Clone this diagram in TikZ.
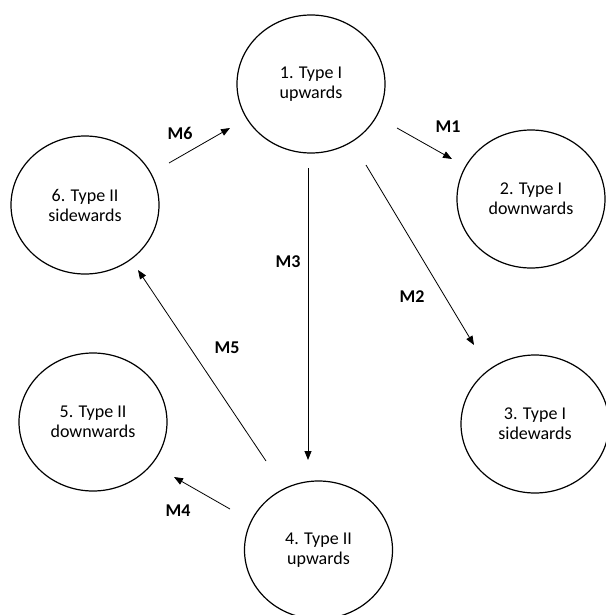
\documentclass[tikz,border=0pt]{standalone}
\usepackage{fontspec}
\setmainfont{Carlito}
\usetikzlibrary{shapes.geometric,arrows.meta,calc}
\begin{document}
\begin{tikzpicture}[x=1pt,y=-1pt,
  state/.style={draw,line width=1.2pt,ellipse,minimum width=148pt,minimum height=138pt,inner sep=0pt,align=center,font=\fontsize{18}{20}\selectfont},
  conn/.style={line width=0.8pt,-{Triangle[length=9pt,width=7pt]}},
  lab/.style={font=\fontsize{18}{20}\selectfont\bfseries}]
\useasboundingbox (0,0) rectangle (605,615);
\node[state] (n1) at (311,84) {1. Type I\\upwards};
\node[state] (n2) at (531,199) {2. Type I\\downwards};
\node[state] (n3) at (535,424) {3. Type I\\sidewards};
\node[state] (n4) at (318.5,550) {4. Type II\\upwards};
\node[state] (n5) at (93,422) {5. Type II\\downwards};
\node[state] (n6) at (85,205) {6. Type II\\sidewards};
\draw[conn] ($(n1)+(86,44)$) -- ($(n2)+(-79,-40)$);
\draw[conn] ($(n1)+(55,81)$) -- ($(n3)+(-61,-79)$);
\draw[conn] ($(n1)+(-3,84)$) -- ($(n4)+(-10.5,-90)$);
\draw[conn] ($(n4)+(-88.5,-41)$) -- ($(n5)+(81,55)$);
\draw[conn] ($(n4)+(-52.5,-89)$) -- ($(n6)+(53,65)$);
\draw[conn] ($(n6)+(84,-42)$) -- ($(n1)+(-81,44)$);
\node[lab] (m1) at (448,127) {M1};
\node[lab] (m2) at (412,297) {M2};
\node[lab] (m3) at (288,262) {M3};
\node[lab] (m4) at (178,511) {M4};
\node[lab] (m5) at (227,348) {M5};
\node[lab] (m6) at (180,133) {M6};
\end{tikzpicture}
\end{document}
